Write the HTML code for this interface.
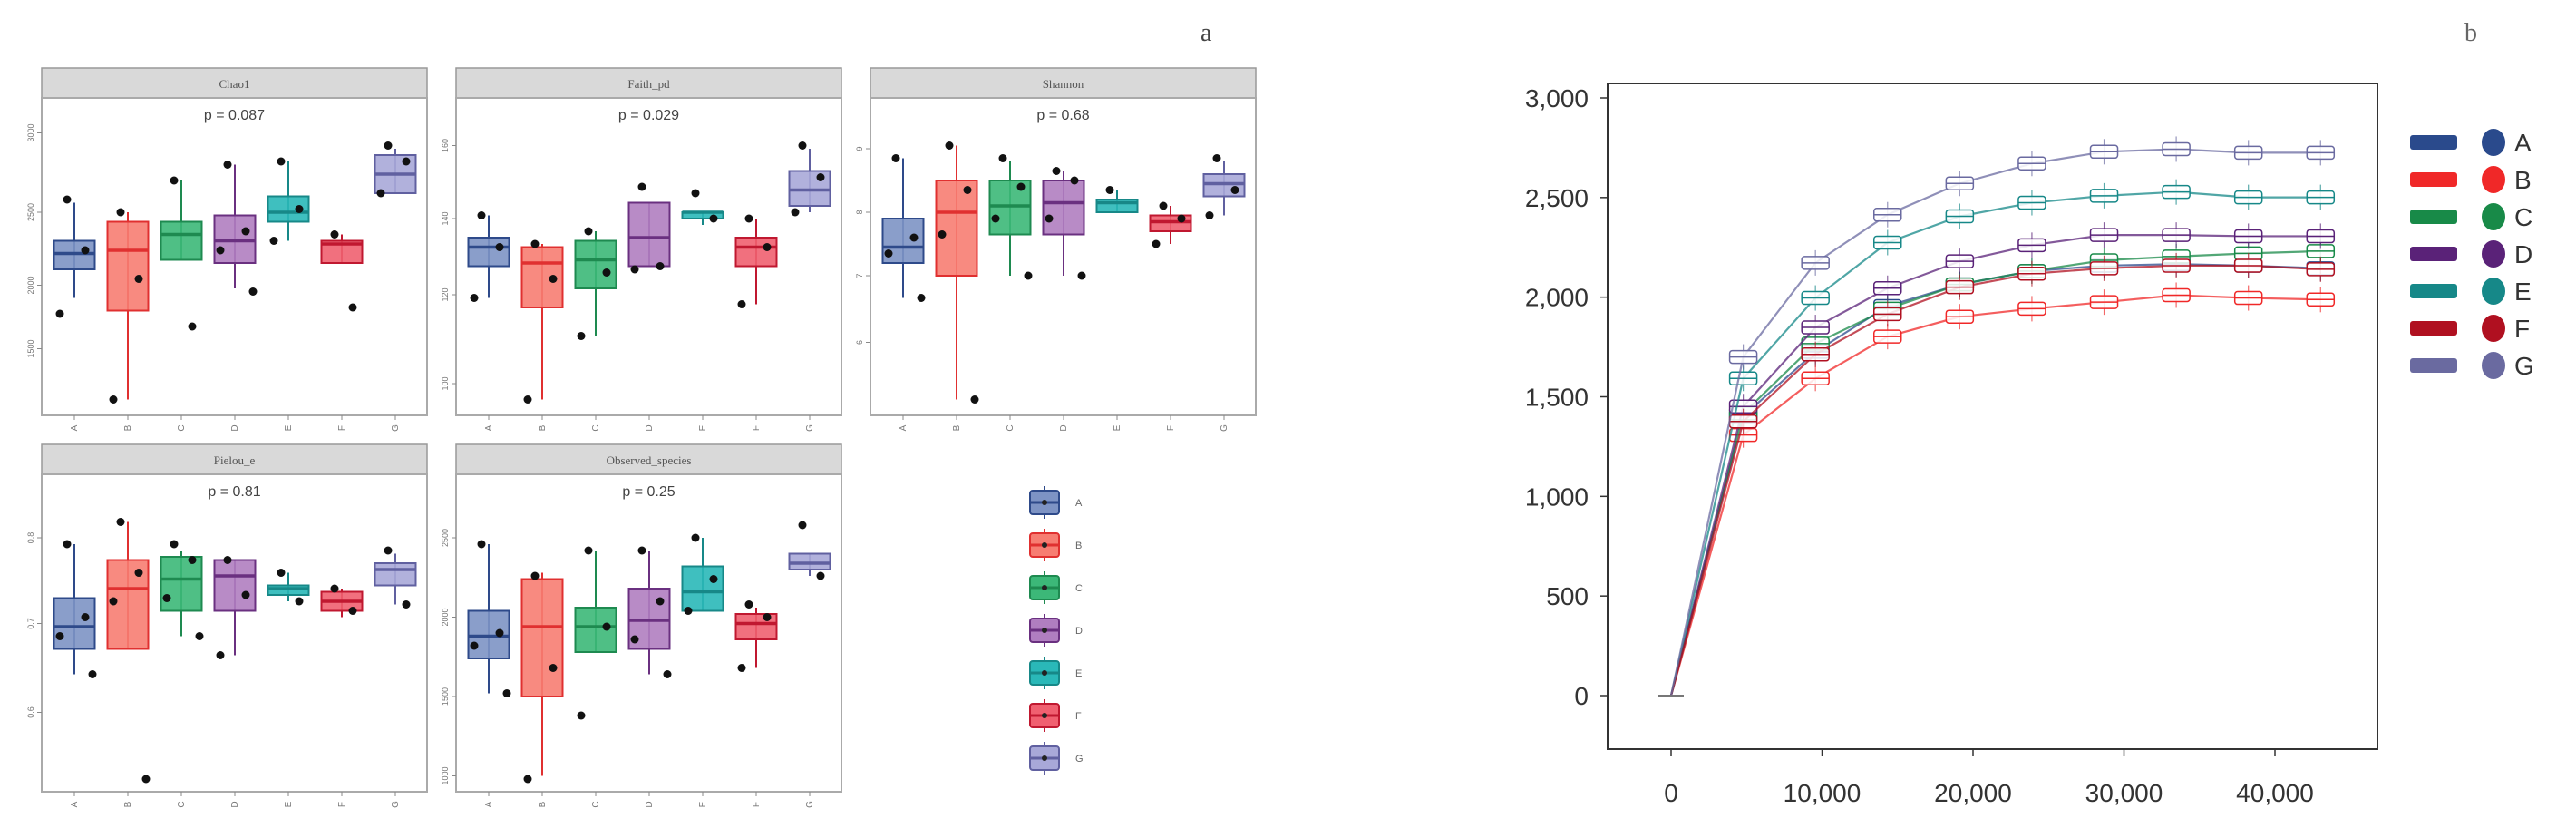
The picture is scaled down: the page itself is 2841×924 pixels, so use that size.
<!DOCTYPE html>
<html><head><meta charset="utf-8">
<style>
html,body{margin:0;padding:0;background:#fff;}
svg{display:block;font-family:"Liberation Sans",sans-serif;}
</style></head>
<body>
<svg id="fig" width="2841" height="924" viewBox="0 0 2841 924">
<text x="1324" y="45" font-family="Liberation Serif" font-size="28" fill="#444">a</text>
<text x="2718" y="45" font-family="Liberation Serif" font-size="28" fill="#666">b</text>
<g id="ga"></g>
<g id="gb"></g>
</svg>
<script>
const NS="http://www.w3.org/2000/svg";
function mk(tag,attrs,parent){const e=document.createElementNS(NS,tag);for(const k in attrs)e.setAttribute(k,attrs[k]);parent.appendChild(e);return e;}

// ---------- Panel a data (values on relative 0-100 scale of each facet) ----------
const groups=["A","B","C","D","E","F","G"];
const metricNames=["Chao1","Faith_pd","Shannon","Pielou_e","Observed_species"];
const pValues=["p = 0.087","p = 0.029","p = 0.68","p = 0.81","p = 0.25"];
const tickLabels=[["3000","2500","2000","1500"],["160","140","120","100"],["9","8","7","6"],["0.8","0.7","0.6"],["2500","2000","1500","1000"]];
const tickValues=[[89,64,41,21],[85,62,38,10],[84,64,44,23],[80,53,25],[80,55,30,5]];
// [lo,q1,med,q3,hi]
const chao1Stats=[[37,46,51,55,67],[5,33,52,61,64],[49,49,57,61,74],[40,48,55,63,79],[55,61,64,69,80],[48,48,54,55,57],[70,70,76,82,84]];
const chao1Pts=[[68,52,32],[64,43,5],[74,28],[79,58,52,39],[80,65,55],[57,34],[85,80,70]];
const faithStats=[[37,47,53,56,63],[5,34,48,53,54],[25,40,49,55,58],[47,47,56,67,67],[60,62,64,64,64],[35,47,53,56,62],[64,66,71,77,84]];
const faithPts=[[63,53,37],[54,43,5],[58,45,25],[72,47,46],[70,62],[62,53,35],[85,75,64]];
const shannonStats=[[37,48,53,62,81],[5,44,64,74,85],[44,57,66,74,80],[44,57,67,74,77],[64,64,67,68,71],[54,58,61,63,66],[63,69,73,76,80]];
const shannonPts=[[81,56,51,37],[85,71,57,5],[81,72,62,44],[77,74,62,44],[71],[66,62,54],[81,71,63]];
const pielouStats=[[37,45,52,61,78],[45,45,64,73,85],[49,57,67,74,76],[43,57,68,73,73],[60,62,64,65,69],[55,57,60,63,64],[59,65,70,72,75]];
const pielouPts=[[78,55,49,37],[85,69,60,4],[78,73,61,49],[73,62,43],[69,60],[64,57],[76,59]];
const observedStats=[[31,42,49,57,78],[5,30,52,67,69],[44,44,52,58,76],[37,45,54,64,76],[57,57,63,71,80],[39,48,53,56,58],[68,70,72,75,75]];
const observedPts=[[78,50,46,31],[68,39,4],[76,52,24],[76,60,48,37],[80,67,57],[59,55,39],[84,68]];

const allStats=[chao1Stats,faithStats,shannonStats,pielouStats,observedStats];
const allPts=[chao1Pts,faithPts,shannonPts,pielouPts,observedPts];
const fills=["#7d93c4","#f77d72","#3cb878","#b07ec0","#2ab8b8","#f06070","#a8a8d8"];
const strokes=["#2e4a8a","#e03030","#1e8a50","#6a3080","#178888","#c01830","#6060a0"];

const ga=document.getElementById("ga");
const panelPos=[[46,75],[503,75],[960,75],[46,490],[503,490]];
const PW=425, SH=33, PH=350;
metricNames.forEach((name,m)=>{
  const [px,py]=panelPos[m];
  const g=mk("g",{},ga);
  
  
  const strip=mk("rect",{x:px,y:py,width:PW,height:SH,fill:"#d9d9d9",stroke:"#999","stroke-width":1.5},g);
  
  
  const st=mk("text",{x:px+PW/2,y:py+22,"text-anchor":"middle","font-family":"Liberation Serif","font-size":13,fill:"#555"},g);
  st.textContent=name;
  
  
  const top=py+SH;
  const fr=mk("rect",{x:px,y:top,width:PW,height:PH,fill:"#fff",stroke:"#aaa","stroke-width":2},g);
  
  
  const yS=v=>top+PH-v/100*PH;
  const pt=mk("text",{x:px+PW/2,y:top+24,"text-anchor":"middle","font-size":16,fill:"#444"},g);
  pt.textContent=pValues[m];
  
  
  tickValues[m].forEach((tv,i)=>{
    const yy=yS(tv);
    mk("line",{x1:px-5,x2:px,y1:yy,y2:yy,stroke:"#888","stroke-width":1},g);
    const t=mk("text",{x:px-9,y:yy,"text-anchor":"middle","font-size":9,fill:"#777",transform:`rotate(-90 ${px-9} ${yy})`},g);
    t.textContent=tickLabels[m][i];
    
    
  });
  const step=59, x0=px+36, bw=45;
  groups.forEach((gr,i)=>{
    const cx=x0+i*step;
    const s=allStats[m][i];
    const bg=mk("g",{},g);
    
    
    mk("line",{x1:cx,x2:cx,y1:yS(s[0]),y2:yS(s[4]),stroke:strokes[i],"stroke-width":2},bg);
    mk("rect",{x:cx-bw/2,y:yS(s[3]),width:bw,height:Math.max(2,yS(s[1])-yS(s[3])),fill:fills[i],stroke:strokes[i],"stroke-width":2,"fill-opacity":0.9},bg);
    mk("line",{x1:cx-bw/2,x2:cx+bw/2,y1:yS(s[2]),y2:yS(s[2]),stroke:strokes[i],"stroke-width":3.5},bg);
    allPts[m][i].forEach((v,k)=>{
      const dx=(k%2?1:-1)*(8+k*4);
      const c=mk("circle",{cx:cx+dx,cy:yS(v),r:4.5,fill:"#111"},bg);
      
      
    });
    mk("line",{x1:cx,x2:cx,y1:top+PH,y2:top+PH+5,stroke:"#888"},g);
    const xt=mk("text",{x:cx,y:top+PH+17,"text-anchor":"middle","font-size":10,fill:"#777",transform:`rotate(-90 ${cx} ${top+PH+14})`},g);
    xt.textContent=gr;
    
    
  });
});
// legend a
const lga=mk("g",{},ga);


groups.forEach((gr,i)=>{
  const y=554+i*47;
  const e=mk("g",{},lga);
  
  
  mk("line",{x1:1152,x2:1152,y1:y-18,y2:y+18,stroke:strokes[i],"stroke-width":2},e);
  mk("rect",{x:1136,y:y-13,width:32,height:26,rx:3,fill:fills[i],stroke:strokes[i],"stroke-width":2},e);
  mk("line",{x1:1136,x2:1168,y1:y,y2:y,stroke:strokes[i],"stroke-width":3},e);
  mk("circle",{cx:1152,cy:y,r:3,fill:"#222"},e);
  const t=mk("text",{x:1186,y:y+4,"font-size":11,fill:"#666"},e);
  t.textContent=gr;
});

// ---------- Panel b data ----------
const depths=[0,4780,9560,14340,19120,23900,28680,33460,38240,43020];
const seriesA=[0,1403,1726,1955,2064,2131,2158,2166,2158,2145];
const seriesB=[0,1308,1592,1802,1902,1942,1975,2010,1996,1988];
const seriesC=[0,1416,1767,1942,2064,2131,2185,2204,2220,2231];
const seriesD=[0,1451,1848,2045,2180,2261,2312,2312,2306,2306];
const seriesE=[0,1592,1996,2274,2406,2474,2509,2528,2501,2501];
const seriesF=[0,1376,1713,1915,2050,2118,2145,2158,2158,2140];
const seriesG=[0,1700,2172,2414,2571,2671,2730,2743,2725,2725];
const yTicks=[0,500,1000,1500,2000,2500,3000];
const yTickLabels=["0","500","1,000","1,500","2,000","2,500","3,000"];
const xTicks=[0,10000,20000,30000,40000];
const xTickLabels=["0","10,000","20,000","30,000","40,000"];
const bSeries=[seriesA,seriesB,seriesC,seriesD,seriesE,seriesF,seriesG];
const bColors=["#2a4a8c","#f02828","#188a48","#5a2278","#168888","#b01020","#6a6aa0"];

const gb=document.getElementById("gb");
const X=v=>1843+(v/40000)*(2509-1843);
const Y=v=>767-(v/3000)*(767-108);
const frame=mk("rect",{x:1773,y:92,width:849,height:734,fill:"none",stroke:"#333","stroke-width":2},gb);


yTicks.forEach((v,i)=>{
  mk("line",{x1:1765,x2:1773,y1:Y(v),y2:Y(v),stroke:"#333","stroke-width":1.5},gb);
  const t=mk("text",{x:1752,y:Y(v)+10,"text-anchor":"end","font-size":28,fill:"#333"},gb);
  t.textContent=yTickLabels[i];
  
  
});
xTicks.forEach((v,i)=>{
  mk("line",{x1:X(v),x2:X(v),y1:826,y2:834,stroke:"#333","stroke-width":1.5},gb);
  const t=mk("text",{x:X(v),y:884,"text-anchor":"middle","font-size":28,fill:"#333"},gb);
  t.textContent=xTickLabels[i];
  
  
});
const bNames=["A","B","C","D","E","F","G"];
bSeries.forEach((s,k)=>{
  const g=mk("g",{},gb);
  
  
  const pl=mk("polyline",{points:s.map((v,i)=>X(depths[i])+","+Y(v)).join(" "),fill:"none",stroke:bColors[k],"stroke-width":2.2,"stroke-opacity":0.75},g);
  
  
  s.forEach((v,i)=>{
    if(i===0){mk("line",{x1:X(depths[i])-14,x2:X(depths[i])+14,y1:Y(v),y2:Y(v),stroke:"#777","stroke-width":1.5},g);return;}
    mk("line",{x1:X(depths[i]),x2:X(depths[i]),y1:Y(v)-14,y2:Y(v)+14,stroke:bColors[k],"stroke-width":1.2,"stroke-opacity":0.7},g);
    const r=mk("rect",{x:X(depths[i])-15,y:Y(v)-7,width:30,height:14,rx:3,fill:"#fff","fill-opacity":0.85,stroke:bColors[k],"stroke-width":1.5},g);
    
    
    mk("line",{x1:X(depths[i])-15,x2:X(depths[i])+15,y1:Y(v),y2:Y(v),stroke:bColors[k],"stroke-width":1.5},g);
  });
});
const lgb=mk("g",{},gb);


bNames.forEach((n,i)=>{
  const y=157+i*41;
  const e=mk("g",{},lgb);
  
  
  mk("rect",{x:2658,y:y-8,width:52,height:16,rx:3,fill:bColors[i]},e);
  mk("ellipse",{cx:2750,cy:y,rx:13,ry:15,fill:bColors[i]},e);
  const t=mk("text",{x:2773,y:y+10,"font-size":28,fill:"#333"},e);
  t.textContent=n;
});
</script>
</body></html>
